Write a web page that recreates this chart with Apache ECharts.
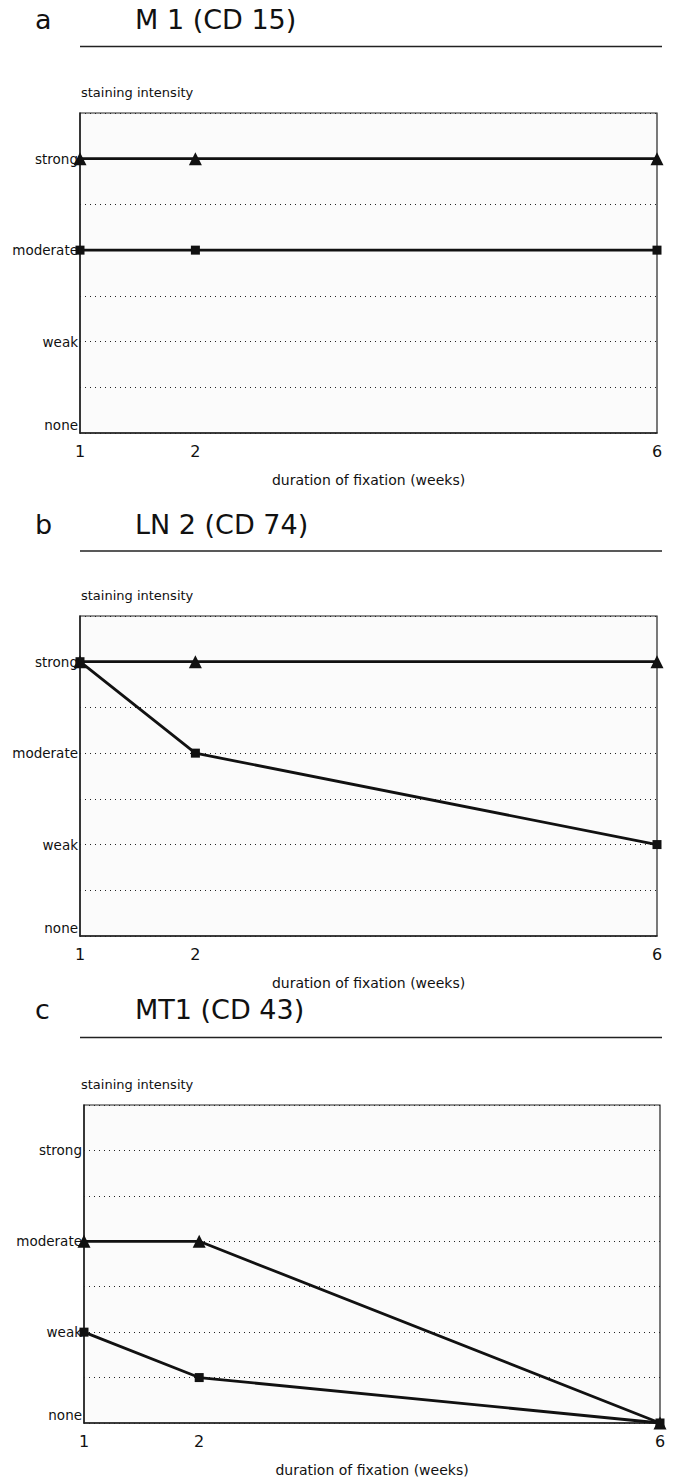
<!DOCTYPE html>
<html>
<head>
<meta charset="utf-8">
<title>staining intensity vs duration of fixation</title>
<script src="https://cdn.jsdelivr.net/npm/echarts@6/dist/echarts.min.js"></script>
<style>
	html, body { margin: 0; padding: 0; background: #fff; }
	#chart { width: 673px; height: 1478px; }
</style>
</head>
<body>
<div id="chart"></div>
<script>
	// data
	const weeks = [1, 2, 6]
	const levelNames = ['none', 'weak', 'moderate', 'strong']
	const panelLetters = ['a', 'b', 'c']
	const panelTitles = ['M 1 (CD 15)', 'LN 2 (CD 74)', 'MT1 (CD 43)']
	// a  M 1
	const m1Triangle = [3, 3, 3]
	const m1Square = [2, 2, 2]
	// b  LN 2
	const ln2Triangle = [3, 3, 3]
	const ln2Square = [3, 2, 1]
	// c  MT1
	const mt1Triangle = [2, 2, 0]
	const mt1Square = [1, 0.5, 0]

	const triangleData = [m1Triangle, ln2Triangle, mt1Triangle]
	const squareData = [m1Square, ln2Square, mt1Square]

	// layout of the three panels (px)
	const grids = [
		{ left: 80, top: 113, width: 577, height: 320 },
		{ left: 80, top: 616, width: 577, height: 320 },
		{ left: 84, top: 1105, width: 576, height: 318 }
	]
	const titleY = [23, 528, 1013]
	const ruleY = [46.5, 551, 1037.5]

	const FONT = '"DejaVu Sans", sans-serif'
	const INK = '#111'

	const myChart = echarts.init(document.getElementById('chart'), null, { renderer: 'svg' })

	const option = {
		backgroundColor: '#fff',
		animation: false,
		grid: [],
		xAxis: [],
		yAxis: [],
		series: [],
		graphic: []
	}

	grids.forEach((g, i) => {
		option.grid.push({
			left: g.left, top: g.top, width: g.width, height: g.height,
			show: true,
			borderColor: '#222',
			borderWidth: 1.2,
			backgroundColor: '#fbfbfb'
		})
		option.xAxis.push({
			gridIndex: i,
			type: 'value',
			min: 1,
			max: 6,
			interval: 1,
			name: 'duration of fixation (weeks)',
			nameLocation: 'middle',
			nameGap: 40,
			nameTextStyle: { fontFamily: FONT, fontSize: 14, color: INK, verticalAlign: 'top' },
			axisLine: { show: true, lineStyle: { color: '#222', width: 1.5 } },
			axisTick: { show: false },
			splitLine: { show: false },
			axisLabel: {
				margin: 10,
				fontFamily: FONT,
				fontSize: 16,
				color: INK,
				formatter: v => weeks.indexOf(v) >= 0 ? String(v) : ''
			}
		})
		option.yAxis.push({
			gridIndex: i,
			type: 'value',
			min: 0,
			max: 3.5,
			interval: 0.5,
			axisLine: { show: true, lineStyle: { color: '#222', width: 1.5 } },
			axisTick: { show: false },
			splitLine: {
				show: true,
				lineStyle: { color: '#222', width: 1.2, type: [1, 4] }
			},
			axisLabel: {
				margin: 2,
				fontFamily: FONT,
				fontSize: 13.5,
				color: INK,
				formatter: v => {
					if (v === 0) return '{low|none}'
					return Number.isInteger(v) ? levelNames[v] : ''
				},
				rich: {
					low: { fontFamily: FONT, fontSize: 13.5, color: INK, padding: [0, 0, 16, 0] }
				}
			}
		})
		// triangles
		option.series.push({
			type: 'line',
			xAxisIndex: i,
			yAxisIndex: i,
			data: weeks.map((w, k) => [w, triangleData[i][k]]),
			symbol: 'triangle',
			symbolSize: 13,
			clip: false,
			lineStyle: { color: INK, width: 2.8 },
			itemStyle: { color: INK },
			z: 3
		})
		// squares
		option.series.push({
			type: 'line',
			xAxisIndex: i,
			yAxisIndex: i,
			data: weeks.map((w, k) => [w, squareData[i][k]]),
			symbol: 'rect',
			symbolSize: 9,
			clip: false,
			lineStyle: { color: INK, width: 2.8 },
			itemStyle: { color: INK },
			z: 4
		})

		// panel letter + title + rule
		option.graphic.push({
			type: 'text',
			left: 35,
			top: titleY[i] - 17,
			style: { text: panelLetters[i], font: '27px ' + FONT, fill: INK }
		})
		option.graphic.push({
			type: 'text',
			left: 135,
			top: titleY[i] - 17,
			style: { text: panelTitles[i], font: '27px ' + FONT, fill: INK }
		})
		option.graphic.push({
			type: 'line',
			shape: { x1: 80, y1: ruleY[i], x2: 662, y2: ruleY[i] },
			style: { stroke: '#222', lineWidth: 1.5 }
		})
		// y axis caption
		option.graphic.push({
			type: 'text',
			left: 81,
			top: g.top - 27,
			style: { text: 'staining intensity', font: '13px ' + FONT, fill: INK }
		})
	})

	myChart.setOption(option)
</script>
</body>
</html>
